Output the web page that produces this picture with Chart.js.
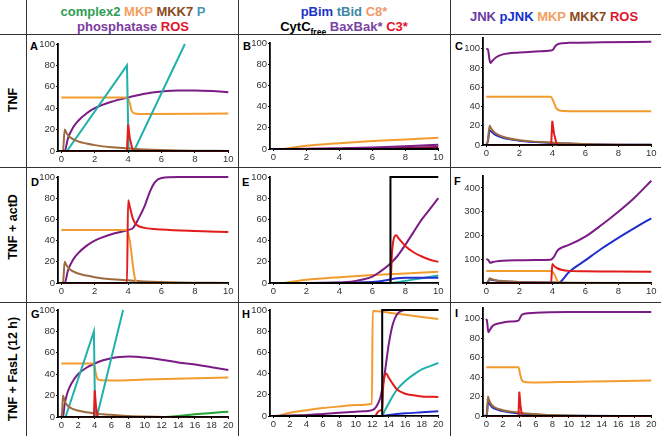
<!DOCTYPE html>
<html>
<head>
<meta charset="utf-8">
<script src="https://cdn.jsdelivr.net/npm/chart.js@4.4.1/dist/chart.umd.min.js"></script>
<style>
body { margin: 0; background: #fff; font-family: 'Liberation Sans', Arial, sans-serif; }
#fig { position: relative; width: 661px; height: 436px; overflow: hidden; }
.box { position: absolute; }
.hl { position: absolute; left: 0; width: 661px; height: 0; border-top: 1.3px solid #333; }
.vl { position: absolute; top: 0; height: 436px; width: 0; border-left: 1.3px solid #333; }
.hd { position: absolute; font-weight: bold; font-size: 13px; line-height: 15px; white-space: nowrap; transform: translateX(-50%); }
.hd sub { font-size: 8.5px; line-height: 0; }
.lt { position: absolute; font-weight: bold; font-size: 11px; line-height: 11px; }
.rl { position: absolute; font-weight: bold; font-size: 12.5px; white-space: nowrap; transform: translate(-50%, -50%) rotate(-90deg); }
</style>
</head>
<body>
<div id="fig">
  <div class="vl" style="left:26px"></div>
  <div class="vl" style="left:238px"></div>
  <div class="vl" style="left:450px"></div>
  <div class="hl" style="top:34px"></div>
  <div class="hl" style="top:167px"></div>
  <div class="hl" style="top:302px"></div>

  <div class="hd" style="left:133px;top:4px"><span style="color:#2e9d55">complex2</span> <span style="color:#f3a060">MKP</span> <span style="color:#8a4a1c">MKK7</span> <span style="color:#4a97b3">P</span></div>
  <div class="hd" style="left:133px;top:19px"><span style="color:#7b3a9e">phosphatase</span> <span style="color:#e0142c">ROS</span></div>
  <div class="hd" style="left:344px;top:4px"><span style="color:#1c33c9">pBim</span> <span style="color:#3d89a6">tBid</span> <span style="color:#f09a6a">C8*</span></div>
  <div class="hd" style="left:344px;top:19px"><span style="color:#000">CytC<sub>free</sub></span> <span style="color:#7a44a2">BaxBak*</span> <span style="color:#e0142c">C3*</span></div>
  <div class="hd" style="left:554px;top:9px"><span style="color:#6a3aa0">JNK</span> <span style="color:#1030d0">pJNK</span> <span style="color:#f3a060">MKP</span> <span style="color:#8a4a1c">MKK7</span> <span style="color:#e0142c">ROS</span></div>

  <div class="rl" style="left:13px;top:100px">TNF</div>
  <div class="rl" style="left:13px;top:227px">TNF + actD</div>
  <div class="rl" style="left:13px;top:369px">TNF + FasL (12 h)</div>

  <div class="lt" style="left:30px;top:41px">A</div>
  <div class="lt" style="left:243px;top:41px">B</div>
  <div class="lt" style="left:455px;top:41px">C</div>
  <div class="lt" style="left:31px;top:177px">D</div>
  <div class="lt" style="left:242px;top:177px">E</div>
  <div class="lt" style="left:454px;top:176px">F</div>
  <div class="lt" style="left:31px;top:309px">G</div>
  <div class="lt" style="left:242px;top:309px">H</div>
  <div class="lt" style="left:455px;top:308px">I</div>
</div>
<script>
// tick labels
const xTicks10 = [0, 2, 4, 6, 8, 10];
const xTicks20 = [0, 2, 4, 6, 8, 10, 12, 14, 16, 18, 20];
const yTicks100 = [0, 20, 40, 60, 80, 100];
const yTicksF = [100, 200, 300, 400];

// A: TNF
const aP = [[0,0],[0.34,0],[3.93,80],[4.03,0],[4.35,0],[7.4,100]];
const aPhos = [[0,0],[0.2,0],[0.4,12],[0.7,22],[1,28],[1.5,35],[2,40],[3,46],[4,50],[5,53.5],[6,55.5],[7,56.5],[8,56.5],[9,56],[10,55]];
const aMKP = [[0,50],[3.9,50],[4.1,45],[4.2,38],[4.4,35],[5,34.5],[10,35]];
const aMKK7 = [[0,0],[0.1,0],[0.2,20],[0.3,17],[0.5,13],[1,9],[1.5,7],[2,5.5],[3,3.5],[4,2.5],[5,1.5],[7,0.5],[10,0]];
const aROS = [[0,0],[3.93,0],[4.0,25],[4.1,12],[4.25,2],[4.35,0],[10,0]];

// B: TNF
const bC8 = [[0,0],[0.5,0],[1,1],[2,3],[4,5.5],[6,7.5],[8,9],[10,10.5]];
const bBaxBak = [[0,0],[2,0.3],[4,0.8],[6,1.5],[8,2.5],[10,4]];
const bC3 = [[0,0],[6,0.3],[8,1],[10,2]];
const bCytC = [[0,0],[10,0]];

// C: TNF
const cJNK = [[0,100],[0.1,99],[0.2,88],[0.25,85],[0.35,87],[0.6,91],[1,94],[2,96],[3,97],[3.9,98],[4.05,99],[4.2,103],[4.4,105],[5,106],[7,106.5],[10,107]];
const cMKP = [[0,50],[3.9,50],[4.1,44],[4.25,38],[4.5,35.5],[5,35],[10,35]];
const cMKK7 = [[0,0],[0.1,5],[0.2,20],[0.3,17],[0.5,13],[1,8.5],[2,5],[3,3.5],[4,2.5],[5,1.5],[7,0.6],[10,0.2]];
const cpJNK = [[0,0],[0.1,4],[0.2,15],[0.3,14],[0.5,11],[1,7.5],[2,4.5],[3,3],[4,2],[5,1.5],[7,0.5],[10,0.2]];
const cROS = [[0,0],[3.93,0],[4.0,25],[4.1,12],[4.25,2],[4.35,0],[10,0]];

// D: TNF + actD
const dPhos = [[0,0],[0.2,0],[0.4,12],[0.7,22],[1,28],[1.5,35],[2,40],[3,46],[4,50],[4.3,52],[4.6,60],[5,73],[5.3,86],[5.6,95],[6,99],[7,100],[10,100]];
const dMKP = [[0,50],[3.9,50],[4.1,40],[4.2,28],[4.3,15],[4.4,5],[4.5,1],[4.6,0],[10,0]];
const dROS = [[0,0],[3.93,0],[4.0,78],[4.1,72],[4.3,60],[4.5,55],[5,52],[6,50.5],[8,49],[10,48]];
const dMKK7 = [[0,0],[0.1,0],[0.2,20],[0.3,17],[0.5,13],[1,9],[1.5,7],[2,5.5],[3,3.5],[4,2.5],[5,1.5],[7,0.5],[10,0]];

// E: TNF + actD
const eCytC = [[0,0],[7.1,0],[7.1,100],[10,100]];
const eBaxBak = [[0,0],[4,0.5],[5,2],[5.5,3.5],[6,6],[6.5,11],[7,17],[7.5,25],[8,36],[8.5,48],[9,60],[9.5,70],[10,80]];
const eC3 = [[0,0],[7.1,0],[7.2,30],[7.35,44],[7.45,45],[7.6,42],[8,35],[8.5,29],[9,25],[9.5,22],[10,20]];
const eC8 = [[0,0],[0.5,0],[1,1],[2,3],[4,5.5],[6,7.5],[8,9],[10,10.5]];
const eBim = [[0,0],[6,1],[7,3],[7.5,4.5],[8,5],[10,5]];
const etBid = [[0,0],[7,0],[8,2],[9,4.5],[10,7]];

// F: TNF + actD
const fJNK = [[0,100],[0.1,98],[0.2,88],[0.25,85],[0.35,87],[0.6,91],[1,94],[2,96],[3,97],[3.9,98],[4.1,110],[4.3,135],[4.6,150],[5,160],[6,195],[7,245],[8,300],[9,360],[10,430]];
const fpJNK = [[0,0],[0.1,3],[0.2,15],[0.3,14],[0.5,11],[1,7],[2,4],[3,2.5],[4,2],[4.3,1],[4.5,5],[5,45],[6,95],[7,145],[8,190],[9,232],[10,272]];
const fROS = [[0,0],[3.93,0],[4.0,80],[4.1,72],[4.3,62],[4.6,55],[5,51],[6,49],[8,48],[10,47]];
const fMKP = [[0,50],[3.9,50],[4.1,40],[4.2,25],[4.3,10],[4.4,2],[4.5,0],[10,0]];
const fMKK7 = [[0,0],[0.1,5],[0.2,20],[0.3,17],[0.5,13],[1,8],[2,4.5],[3,3],[4,2],[5,1],[10,0]];

// G: TNF + FasL (12 h)
const gP = [[0,0],[0.5,0],[3.9,80],[4.05,0],[4.25,0],[7.4,100]];
const gPhos = [[0,0],[0.2,0],[0.4,12],[0.7,22],[1,28],[1.5,35],[2,40],[3,46],[4,50],[5,53],[6,55],[7,56],[8,56.5],[9,56.3],[10,55.5],[12,53.5],[14,51],[16,49],[18,46.5],[20,44]];
const gMKP = [[0,50],[3.9,50],[4.1,42],[4.3,36],[4.6,34.5],[6,34.2],[10,35],[15,36],[20,37]];
const gMKK7 = [[0,0],[0.1,5],[0.2,20],[0.35,16],[0.6,12],[1,9],[2,6],[3,4.5],[4,3.5],[5,2.5],[6,2],[8,1],[10,0.5],[14,0],[20,0]];
const gROS = [[0,0],[3.9,0],[4.0,25],[4.15,10],[4.3,2],[4.4,0],[20,0]];
const gComplex2 = [[0,0],[12,0],[13,0.3],[14,1],[16,2.5],[18,3.8],[20,5]];

// H: TNF + FasL (12 h)
const hC8 = [[0,0],[0.5,0],[1,1],[2,3],[4,5.5],[6,7.5],[8,9],[10,10.3],[11.95,11.5],[12.05,99],[14,97.5],[16,95.5],[18,93.5],[20,91.5]];
const hCytC = [[0,0],[13.2,0],[13.2,100],[20,100]];
const hBaxBak = [[0,0],[2,0.5],[4,1],[6,2],[8,3],[10,4],[11,4.5],[12,5.5],[12.5,9],[13,18],[13.5,40],[14,68],[14.5,87],[15,96],[15.5,99],[16,100],[20,100]];
const hC3 = [[0,0],[12.3,0],[12.7,4],[13,5.5],[13.2,5],[13.3,25],[13.5,38],[13.7,40],[14,36],[14.5,30],[15,25],[16,21],[17,19.5],[18,18.5],[20,18]];
const htBid = [[0,0],[13.2,0],[13.5,5],[14,12],[14.5,19],[15,25],[16,33],[17,39],[18,44],[19,47],[20,50]];
const hBim = [[0,0],[13,0],[14,1],[16,2.5],[18,3.5],[20,4.5]];

// I: TNF + FasL (12 h)
const iJNK = [[0,100],[0.1,97],[0.25,86],[0.4,88],[0.7,92],[1,94],[2,96],[3,97],[3.9,98],[4.1,101],[4.3,104],[4.6,105],[6,106],[10,106.8],[20,107]];
const iMKP = [[0,50],[3.9,50],[4.1,43],[4.3,37],[4.6,35],[6,34.5],[10,35],[15,35.8],[20,36.5]];
const iMKK7 = [[0,0],[0.1,5],[0.2,20],[0.35,16],[0.6,12],[1,9],[2,6],[3,4.5],[4,3.5],[5,2.5],[6,2],[8,1],[10,0.5],[14,0],[20,0]];
const ipJNK = [[0,0],[0.1,4],[0.2,14],[0.35,13],[0.6,10],[1,7.5],[2,5],[3,3.5],[4,2.5],[5,1.8],[6,1.3],[8,0.6],[10,0.3],[20,0]];
const iROS = [[0,0],[3.9,0],[4.0,25],[4.15,10],[4.3,2],[4.4,0],[20,0]];

const PURPLE = '#7b1c86', ORANGE = '#f29b2f', TEAL = '#21b1ac', RED = '#e21b1b',
      BROWN = '#9c6a3d', BLUE = '#1f2fcf', GREEN = '#26a336', BLACK = '#000';

const YW = 30, XH = 16, PT = 8, PR = 12;
const tickFont = { family: "'Liberation Sans', Arial, sans-serif", size: 9.5 };

// straight = no smoothing (sawtooth, spikes, steps)
function line(pts, color, straight) {
    return {
        data: pts.map(p => ({ x: p[0], y: p[1] })),
        borderColor: color,
        borderWidth: 2,
        pointRadius: 0,
        fill: false,
        clip: 4,
        cubicInterpolationMode: straight ? 'default' : 'monotone',
        tension: 0
    };
}

function panel(p) {
    const ppu = (p.x1 - p.x0) / p.xMax;
    const xMin = -0.02 * p.xMax;
    const L = p.x0 + xMin * ppu;
    const div = document.createElement('div');
    div.className = 'box';
    div.style.left = (L - YW) + 'px';
    div.style.top = (p.top - PT) + 'px';
    div.style.width = (p.x1 - L + YW + PR) + 'px';
    div.style.height = (p.bottom - p.top + PT + XH) + 'px';
    const cv = document.createElement('canvas');
    div.appendChild(cv);
    document.getElementById('fig').appendChild(div);

    const axis = (ticks, isX) => ({
        type: 'linear',
        afterBuildTicks: s => { s.ticks = ticks.map(v => ({ value: v })); },
        afterFit: s => { if (isX) s.height = XH; else s.width = YW; },
        ticks: { font: tickFont, color: '#333', padding: 1, autoSkip: false, maxRotation: 0 },
        grid: { display: true, drawOnChartArea: false, drawTicks: true, tickLength: 2, color: '#000' },
        border: { display: true, color: '#000', width: 1.8, z: 1 }
    });

    const x = axis(p.xTicks, true);
    x.min = xMin; x.max = p.xMax;
    const y = axis(p.yTicks, false);
    y.min = 0; y.max = p.yMax;

    new Chart(cv.getContext('2d'), {
        type: 'line',
        data: { datasets: p.series },
        options: {
            responsive: true,
            maintainAspectRatio: false,
            animation: false,
            devicePixelRatio: 1,
            layout: { padding: { top: PT, right: PR, left: 0, bottom: 0 } },
            plugins: { legend: { display: false }, tooltip: { enabled: false } },
            scales: { x: x, y: y }
        }
    });
}

panel({ x0: 61, x1: 228, top: 44, bottom: 151, xMax: 10, yMax: 100, xTicks: xTicks10, yTicks: yTicks100,
    series: [line(aROS, RED, true), line(aMKK7, BROWN), line(aP, TEAL, true), line(aMKP, ORANGE), line(aPhos, PURPLE)] });
panel({ x0: 273, x1: 438, top: 43, bottom: 149, xMax: 10, yMax: 100, xTicks: xTicks10, yTicks: yTicks100,
    series: [line(bBaxBak, PURPLE), line(bC3, '#8a1040'), line(bC8, ORANGE), line(bCytC, BLACK, true)] });
panel({ x0: 486, x1: 651, top: 38, bottom: 145, xMax: 10, yMax: 111, xTicks: xTicks10, yTicks: yTicks100,
    series: [line(cROS, RED, true), line(cMKK7, BROWN), line(cpJNK, BLUE), line(cMKP, ORANGE), line(cJNK, PURPLE)] });

panel({ x0: 61, x1: 228, top: 177, bottom: 283, xMax: 10, yMax: 100, xTicks: xTicks10, yTicks: yTicks100,
    series: [line(dROS, RED), line(dMKP, ORANGE), line(dMKK7, BROWN), line(dPhos, PURPLE)] });
panel({ x0: 273, x1: 438, top: 177, bottom: 283, xMax: 10, yMax: 100, xTicks: xTicks10, yTicks: yTicks100,
    series: [line(eCytC, BLACK, true), line(eC3, RED), line(eBaxBak, PURPLE), line(eC8, ORANGE), line(eBim, BLUE), line(etBid, TEAL)] });
panel({ x0: 486, x1: 651, top: 176, bottom: 283, xMax: 10, yMax: 450, xTicks: xTicks10, yTicks: yTicksF,
    series: [line(fROS, RED), line(fMKP, ORANGE), line(fMKK7, BROWN), line(fpJNK, BLUE), line(fJNK, PURPLE)] });

panel({ x0: 61, x1: 228, top: 310, bottom: 417, xMax: 20, yMax: 100, xTicks: xTicks20, yTicks: yTicks100,
    series: [line(gROS, RED, true), line(gMKK7, BROWN), line(gP, TEAL, true), line(gMKP, ORANGE), line(gPhos, PURPLE), line(gComplex2, GREEN)] });
panel({ x0: 273, x1: 438, top: 310, bottom: 416, xMax: 20, yMax: 100, xTicks: xTicks20, yTicks: yTicks100,
    series: [line(hCytC, BLACK, true), line(hC3, RED), line(hBaxBak, PURPLE), line(hC8, ORANGE), line(htBid, TEAL), line(hBim, BLUE)] });
panel({ x0: 486, x1: 651, top: 308, bottom: 416, xMax: 20, yMax: 111, xTicks: xTicks20, yTicks: yTicks100,
    series: [line(iROS, RED, true), line(iMKK7, BROWN), line(ipJNK, BLUE), line(iMKP, ORANGE), line(iJNK, PURPLE)] });
</script>
</body>
</html>
